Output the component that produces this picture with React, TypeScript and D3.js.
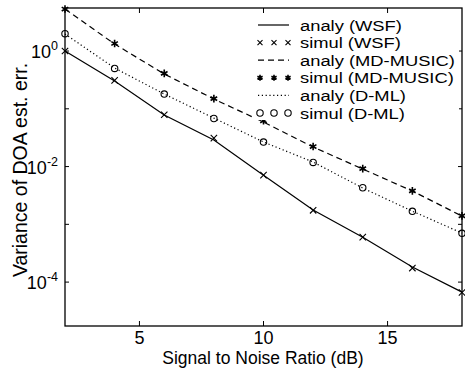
import React from "react";
import * as d3 from "d3";

const snr = [2, 4, 6, 8, 10, 12, 14, 16, 18];
const wsfAnaly = [1.0, 0.303, 0.078, 0.0288, 0.0071, 0.00177, 0.0006, 0.000182, 0.000067];
const wsfSimul = [1.0, 0.31, 0.079, 0.031, 0.0071, 0.00175, 0.0006, 0.000175, 0.000066];
const musicAnaly = [5.33, 1.32, 0.4, 0.1475, 0.059, 0.0218, 0.00906, 0.00377, 0.00139];
const musicSimul = [5.33, 1.35, 0.41, 0.15, 0.062, 0.0222, 0.0092, 0.0038, 0.0014];
const dmlAnaly = [1.97, 0.508, 0.18, 0.069, 0.0266, 0.012, 0.00425, 0.00169, 0.000705];
const dmlSimul = [2.0, 0.5, 0.18, 0.068, 0.0265, 0.0118, 0.0043, 0.00168, 0.0007];
const xTicks = [5, 10, 15];
const yTicks = [1e0, 1e-1, 1e-2, 1e-3, 1e-4];
const yLabelTicks = [{ v: 1e0, e: "0" }, { v: 1e-2, e: "-2" }, { v: 1e-4, e: "-4" }];
const legendLabels = [
  "analy (WSF)",
  "simul (WSF)",
  "analy (MD-MUSIC)",
  "simul (MD-MUSIC)",
  "analy (D-ML)",
  "simul (D-ML)",
];

const W = 465, H = 370;
const L = 65, R = 462, T = 8, B = 326;
const FONT = "'Liberation Sans', Arial, Helvetica, sans-serif";

function XMark({ x, y, s = 3.2 }: { x: number; y: number; s?: number }) {
  return (
    <path d={`M${x - s},${y - s}L${x + s},${y + s}M${x - s},${y + s}L${x + s},${y - s}`} stroke="#000" strokeWidth={1.1} fill="none" />
  );
}
function Star({ x, y, s = 3.8 }: { x: number; y: number; s?: number }) {
  const a = s * 0.866, b = s * 0.5;
  return (
    <path d={`M${x},${y - s}L${x},${y + s}M${x - a},${y - b}L${x + a},${y + b}M${x - a},${y + b}L${x + a},${y - b}`} stroke="#000" strokeWidth={1.6} fill="none" />
  );
}
function Circ({ x, y }: { x: number; y: number }) {
  return <circle cx={x} cy={y} r={3.2} fill="none" stroke="#000" strokeWidth={1.1} />;
}

export default function App() {
  const x = d3.scaleLinear().domain([2, 18]).range([L, R]);
  const y = d3.scaleLog().domain([Math.pow(10, -4.76), Math.pow(10, 0.745)]).range([B, T]);
  const line = d3.line<number>().x((_, i) => x(snr[i])).y((d) => y(d));

  const legendX0 = 258, legendX1 = 289, textX = 300;
  const rowY = (i: number) => 25 + i * 17.6;
  const lx = [260, 274, 288];

  return (
    <svg width={W} height={H} style={{ position: "absolute", left: 0, top: 0, background: "#fff" }} fontFamily={FONT}>
      <rect x={0} y={0} width={W} height={H} fill="#fff" />
      <defs>
        <clipPath id="plot">
          <rect x={L - 5} y={T - 5} width={R - L + 10} height={B - T + 10} />
        </clipPath>
      </defs>
      <rect x={L} y={T} width={R - L} height={B - T} fill="none" stroke="#000" strokeWidth={1.3} />
      {xTicks.map((t) => (
        <g key={"xt" + t}>
          <line x1={x(t)} x2={x(t)} y1={B} y2={B - 5} stroke="#000" />
          <line x1={x(t)} x2={x(t)} y1={T} y2={T + 5} stroke="#000" />
          <text x={x(t)} y={B + 18} fontSize={18} textAnchor="middle">{t}</text>
        </g>
      ))}
      {yTicks.map((t) => (
        <g key={"yt" + t}>
          <line x1={L} x2={L + 4} y1={y(t)} y2={y(t)} stroke="#000" />
          <line x1={R} x2={R - 4} y1={y(t)} y2={y(t)} stroke="#000" />
        </g>
      ))}
      {yLabelTicks.map((t) => (
        <text key={"yl" + t.e} x={L - 7} y={y(t.v) + 7} fontSize={18} textAnchor="end">
          10<tspan fontSize={12.5} dy={-8}>{t.e}</tspan>
        </text>
      ))}
      <text x={263} y={364} fontSize={17.5} textAnchor="middle">Signal to Noise Ratio (dB)</text>
      <text transform={`translate(27,170) rotate(-90)`} fontSize={19.5} textAnchor="middle">Variance of DOA est. err.</text>

      <g clipPath="url(#plot)">
        <path d={line(wsfAnaly) || ""} fill="none" stroke="#000" strokeWidth={1.2} />
        <path d={line(musicAnaly) || ""} fill="none" stroke="#000" strokeWidth={1.2} strokeDasharray="6,4" />
        <path d={line(dmlAnaly) || ""} fill="none" stroke="#000" strokeWidth={1.2} strokeDasharray="1.2,2.6" />
        {wsfSimul.map((v, i) => <XMark key={"w" + i} x={x(snr[i])} y={y(v)} />)}
        {musicSimul.map((v, i) => <Star key={"m" + i} x={x(snr[i])} y={y(v)} />)}
        {dmlSimul.map((v, i) => <Circ key={"d" + i} x={x(snr[i])} y={y(v)} />)}
      </g>

      <rect x={253} y={14} width={206} height={106} fill="#fff" />
      {legendLabels.map((lab, i) => (
        <g key={"lg" + i} transform={`translate(${textX},${rowY(i) + 5.5}) scale(1.2,1)`}>
          <text x={0} y={0} fontSize={15.3}>{lab}</text>
        </g>
      ))}
      <line x1={legendX0} x2={legendX1} y1={rowY(0)} y2={rowY(0)} stroke="#000" strokeWidth={1.2} />
      {lx.map((px) => <XMark key={"lx" + px} x={px} y={rowY(1)} s={2.5} />)}
      <line x1={legendX0} x2={legendX1} y1={rowY(2)} y2={rowY(2)} stroke="#000" strokeWidth={1.2} strokeDasharray="6,4" />
      {lx.map((px) => <Star key={"ls" + px} x={px} y={rowY(3)} s={3} />)}
      <line x1={legendX0} x2={legendX1} y1={rowY(4)} y2={rowY(4)} stroke="#000" strokeWidth={1.2} strokeDasharray="1.2,2.6" />
      {lx.map((px) => <Circ key={"lc" + px} x={px} y={rowY(5)} />)}
    </svg>
  );
}
